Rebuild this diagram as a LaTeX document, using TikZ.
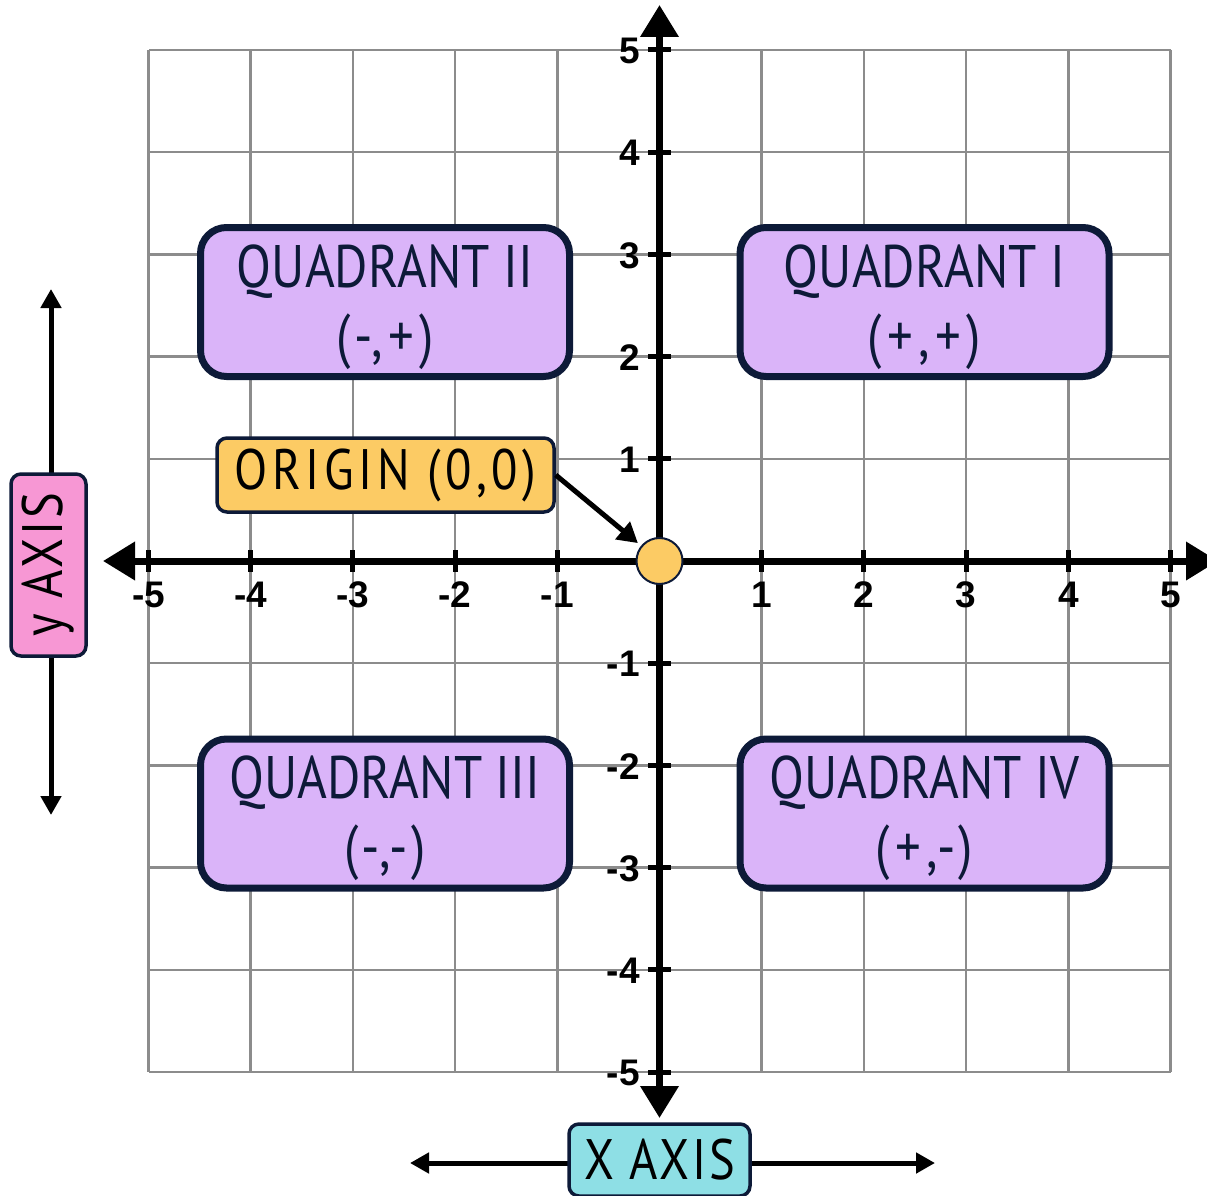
\documentclass[tikz,border=0pt]{standalone}
\usepackage{fontspec}
\setmainfont{Liberation Sans}
\newfontfamily\hand[FakeStretch=0.85]{PT Sans}
\usetikzlibrary{arrows.meta,calc}
\definecolor{navy}{HTML}{0D1A38}
\definecolor{gridgray}{HTML}{8C8C8C}
\definecolor{quadfill}{HTML}{DAB4F9}
\definecolor{origfill}{HTML}{FCCB64}
\definecolor{yfill}{HTML}{F797D4}
\definecolor{xfill}{HTML}{8EDFE5}
\begin{document}
\begin{tikzpicture}[x=1pt,y=-1pt,
  gridline/.style={draw=gridgray,line width=2.5pt},
  axisline/.style={line width=7pt,{Triangle[length=32pt,width=37pt]}-{Triangle[length=32pt,width=37pt]}},
  smallaxis/.style={line width=5pt,{Triangle[length=19pt,width=20pt]}-{Triangle[length=19pt,width=20pt]}},
  tickmark/.style={line width=5pt},
  num/.style={inner sep=0pt,font=\bfseries\fontsize{37}{37}\selectfont},
  quadtext/.style={inner sep=0pt,align=center,text=navy,font=\hand\fontsize{60}{69}\selectfont},
  quad/.style={draw=navy,line width=7pt,fill=quadfill,rounded corners=26pt,minimum width=369pt,minimum height=149pt,inner sep=0pt},
  tagbox/.style={draw=navy,line width=3.5pt,rounded corners=10pt,inner sep=0pt,text=black,font=\hand\fontsize{57}{57}\selectfont\addfontfeature{LetterSpace=5}},
  dot/.style={circle,draw=navy,line width=2pt,fill=origfill,minimum size=46pt,inner sep=0pt},
  pointer/.style={line width=5pt,-{Triangle[length=20pt,width=22pt]},shorten >=4pt}
]
\useasboundingbox (0,0) rectangle (1207,1196);
\fill[white] (0,0) rectangle (1207,1196);
% grid
\foreach \i in {-5,...,5} {
  \draw[gridline] ({659.5+\i*102.2},50) -- ({659.5+\i*102.2},1072);
  \draw[gridline] (149,{561+\i*102.2}) -- (1171,{561+\i*102.2});
}
% axes
\coordinate (xl) at (103,561);
\coordinate (xr) at (1218,561);
\coordinate (yt) at (659.5,5);
\coordinate (yb) at (659.5,1118);
\draw[axisline] (xl) -- (xr);
\draw[axisline] (yt) -- (yb);
% ticks and labels
\foreach \i in {-5,-4,-3,-2,-1,1,2,3,4,5} {
  \draw[tickmark] ({659.5+\i*102.2},550) -- ({659.5+\i*102.2},572);
  \node[num] at ({659.5+\i*102.2},595) {\i};
  \draw[tickmark] (648,{561-\i*102.2}) -- (671,{561-\i*102.2});
  \node[num,anchor=east] at (640,{562-\i*102.2}) {\i};
}
% side axes
\coordinate (yat) at (51,289);
\coordinate (yab) at (51,815);
\draw[smallaxis] (yat) -- (yab);
\coordinate (xal) at (410,1163);
\coordinate (xar) at (935,1163);
\draw[smallaxis] (xal) -- (xar);
% quadrant boxes
\node[quad,label={[quadtext,yshift=-5pt]center:{QUADRANT II\\\addfontfeature{LetterSpace=9}(-,+)}}] (q2) at (385,302) {};
\node[quad,label={[quadtext,yshift=-5pt]center:{QUADRANT I\\\addfontfeature{LetterSpace=9}(+,+)}}] (q1) at (924.5,302) {};
\node[quad,label={[quadtext,yshift=-5pt]center:{QUADRANT III\\\addfontfeature{LetterSpace=9}(-,-)}}] (q3) at (385,813.5) {};
\node[quad,label={[quadtext,yshift=-5pt]center:{QUADRANT IV\\\addfontfeature{LetterSpace=9}(+,-)}}] (q4) at (924.5,813.5) {};
% origin
\node[dot] (O) at (659.5,561) {};
\node[tagbox,fill=origfill,minimum width=337pt,minimum height=74pt,font=\hand\fontsize{57}{57}\selectfont\addfontfeature{LetterSpace=8}] (orig) at (385.5,475) {ORIGIN (0,0)};
\draw[pointer] (orig.east) -- (O);
% axis labels
\node[tagbox,fill=yfill,rotate=90,minimum width=182pt,minimum height=75pt] (ylab) at (48.5,565) {y AXIS};
\node[tagbox,fill=xfill,minimum width=181pt,minimum height=72pt] (xlab) at (659.5,1160) {X AXIS};
\end{tikzpicture}
\end{document}
